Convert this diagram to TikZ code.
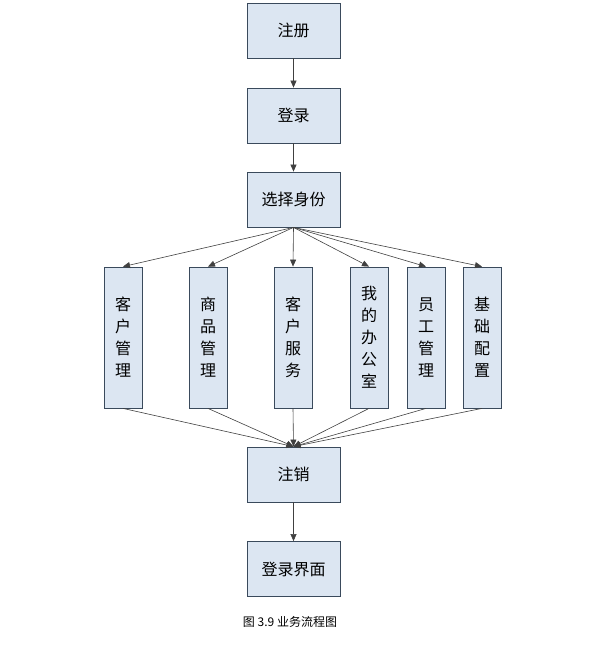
\documentclass[tikz,border=0pt]{standalone}
\usepackage{fontspec}
\setmainfont{Noto Sans CJK SC}
\usetikzlibrary{arrows.meta}
\definecolor{boxfill}{HTML}{DCE6F2}
\definecolor{boxline}{HTML}{3A4A5C}
\tikzset{
  procbox/.style={draw=boxline,fill=boxfill,line width=0.8pt,minimum width=93pt,minimum height=55pt,font=\fontsize{16}{18}\selectfont},
  tallbox/.style={procbox,minimum width=38pt,minimum height=141pt,align=center,font=\fontsize{16}{22}\selectfont},
  flow/.style={draw=black!75,line width=0.6pt,-{Triangle[length=7pt,width=6pt]}}
}
\begin{document}
\begin{tikzpicture}[x=1pt,y=-1pt]
  \useasboundingbox (0,0) rectangle (615,650);
  \node[procbox] (reg) at (293.5,30.5) {注册};
  \node[procbox] (login) at (293.5,115.5) {登录};
  \node[procbox] (role) at (293.5,199.5) {选择身份};
  \node[tallbox] (cust) at (123,337.5) {客\\户\\管\\理};
  \node[tallbox] (goods) at (208,337.5) {商\\品\\管\\理};
  \node[tallbox] (serv) at (293,337.5) {客\\户\\服\\务};
  \node[tallbox] (office) at (369,337.5) {我\\的\\办\\公\\室};
  \node[tallbox] (staff) at (426,337.5) {员\\工\\管\\理};
  \node[tallbox] (conf) at (482,337.5) {基\\础\\配\\置};
  \node[procbox] (logout) at (293.5,474.5) {注销};
  \node[procbox] (ui) at (293.5,569) {登录界面};
  \node[font=\fontsize{12}{14}\selectfont] (cap) at (290,622) {图 3.9 业务流程图};
  \draw[flow] (reg) -- (login);
  \draw[flow] (login) -- (role);
  \foreach \b in {cust,goods,serv,office,staff,conf} {
    \draw[flow] (role.south) -- (\b.north);
    \draw[flow] (\b.south) -- (logout.north);
  }
  \draw[flow] (logout) -- (ui);
\end{tikzpicture}
\end{document}
